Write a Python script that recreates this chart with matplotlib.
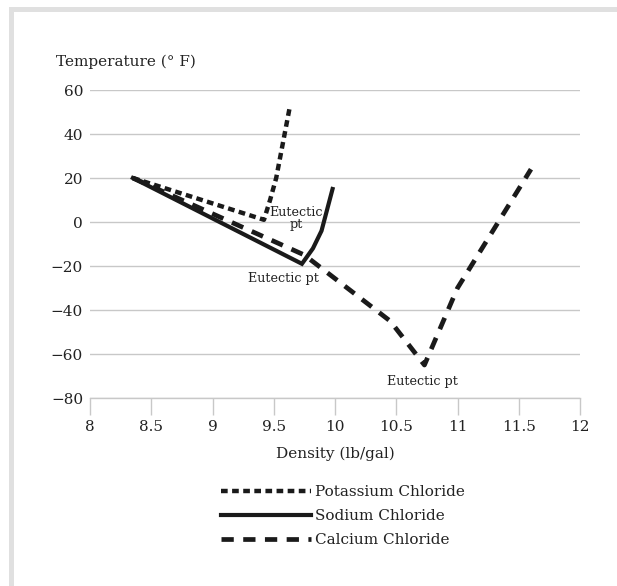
import matplotlib
matplotlib.use("Agg")
import matplotlib.pyplot as plt
from matplotlib.patches import Rectangle

plt.rcParams['font.family'] = ['DejaVu Serif']

# Data
kcl_density = [8.35, 9.42, 9.47, 9.52, 9.63]
kcl_temp = [20, 1, 10, 20, 52]
nacl_density = [8.35, 9.73, 9.82, 9.89, 9.98]
nacl_temp = [20, -19, -12, -4, 15]
cacl_density = [8.35, 9.75, 10.45, 10.73, 11.0, 11.6]
cacl_temp = [20, -15, -45, -65, -30, 24]

x_ticks = [8, 8.5, 9, 9.5, 10, 10.5, 11, 11.5, 12]
x_tick_labels = ['8', '8.5', '9', '9.5', '10', '10.5', '11', '11.5', '12']
y_ticks = [-80, -60, -40, -20, 0, 20, 40, 60]
y_tick_labels = ['\u221280', '\u221260', '\u221240', '\u221220', '0', '20', '40', '60']

labels = ['Potassium Chloride', 'Sodium Chloride', 'Calcium Chloride']

fig = plt.figure(figsize=(6.17, 5.86), dpi=100)
fig.patch.set_facecolor('white')

# grey frame bars (top and left)
fig.patches.append(Rectangle((9/617, 0), 4.5/617, 1 - 7/586, transform=fig.transFigure,
                             facecolor='#e0e0e0', edgecolor='none'))
fig.patches.append(Rectangle((9/617, 1 - 12/586), 1, 5/586, transform=fig.transFigure,
                             facecolor='#e0e0e0', edgecolor='none'))

ax = fig.add_axes([90/617, 1 - 398/586, 490/617, 308/586])
ax.set_xlim(8, 12)
ax.set_ylim(-80, 60)

ink = '#1a1a1a'
txt = '#222222'
l1, = ax.plot(kcl_density, kcl_temp, color=ink, lw=3.2, linestyle=(0, (1.5, 1.0)),
              dash_capstyle='butt', label=labels[0])
l2, = ax.plot(nacl_density, nacl_temp, color=ink, lw=3.0, solid_joinstyle='miter',
              label=labels[1])
l3, = ax.plot(cacl_density, cacl_temp, color=ink, lw=3.4, linestyle=(0, (2.6, 2.0)),
              dash_capstyle='butt', label=labels[2])

ax.set_xticks(x_ticks)
ax.set_xticklabels(x_tick_labels, fontsize=11, color=txt)
ax.set_yticks(y_ticks)
ax.set_yticklabels(y_tick_labels, fontsize=11, color=txt)
ax.grid(axis='y', color='#c8c8c8', lw=1)
ax.set_axisbelow(True)
for s in ['top', 'right', 'left']:
    ax.spines[s].set_visible(False)
ax.spines['bottom'].set_color('#c8c8c8')
ax.spines['bottom'].set_linewidth(1)
ax.tick_params(axis='x', length=12, width=1, color='#c8c8c8', pad=4)
ax.tick_params(axis='y', length=0, pad=5)

ax.set_xlabel('Density (lb/gal)', fontsize=11, color=txt, labelpad=9)
fig.text(56/617, 1 - 62/586, 'Temperature (\u00b0 F)', fontsize=11, color=txt,
         ha='left', va='center')

ax.text(9.68, 1.5, 'Eutectic\npt', fontsize=9.2, color=txt, ha='center', va='center',
        linespacing=0.85)
ax.text(9.58, -25.5, 'Eutectic pt', fontsize=9.2, color=txt, ha='center', va='center')
ax.text(10.71, -72.5, 'Eutectic pt', fontsize=9.2, color=txt, ha='center', va='center')

leg = fig.legend(handles=[l1, l2, l3], labels=labels, loc='upper left',
                 bbox_to_anchor=(221/617, 1 - 485/586), frameon=False, fontsize=11,
                 handlelength=5.9, handletextpad=0.25, labelspacing=0.65,
                 borderpad=0, borderaxespad=0)
for t in leg.get_texts():
    t.set_color(txt)

fig.savefig('out.png', dpi=100)
